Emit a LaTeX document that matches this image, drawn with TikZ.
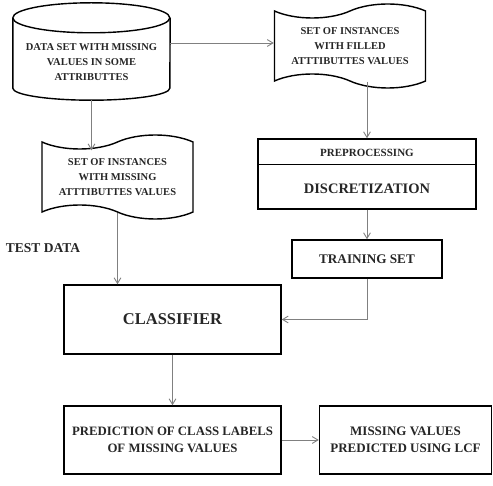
\documentclass[tikz,border=0pt]{standalone}
\usepackage{fontspec}
\setmainfont{Liberation Serif}
\usetikzlibrary{arrows.meta,positioning,shapes.geometric,shapes.symbols}

\begin{document}
\begin{tikzpicture}[
                x=1pt, y=-1pt,
                font=\bfseries\fontsize{10.5}{15}\selectfont, text=black!85,
                box/.style={rectangle, draw=black, line width=1.4pt, align=center, inner sep=3pt},
                flag/.style={tape, draw=black, line width=1.4pt, align=center, tape bend top=in and out, tape bend bottom=out and in, tape bend height=14pt, minimum width=151pt, minimum height=84pt},
                drum/.style={rectangle, minimum width=157pt, minimum height=97pt, inner sep=0pt},
                edge/.style={draw=black, line width=1.4pt},
                arr/.style={-{Straight Barb[length=2mm, width=2.4mm]}, draw=black!50, line width=0.9pt},
            ]
            \useasboundingbox (0,0) rectangle (493,486);
            % cylinder outline drawn around an empty node
            \node[drum] (data) at (91.5,51.5) {};
            \draw[edge] ([yshift=-15pt]data.north west) arc[start angle=180, end angle=-180, x radius=78.5pt, y radius=15pt];
            \draw[edge] ([yshift=-15pt]data.north west) -- ([yshift=12pt]data.south west) arc[start angle=180, end angle=360, x radius=78.5pt, y radius=12pt] -- ([yshift=-15pt]data.north east);
            \node[align=center] (datatxt) at (91.5,62) {DATA SET WITH MISSING\\VALUES IN SOME\\ATTRIBUTTES};

            \node[flag] (filled) at (350,46) {SET OF INSTANCES\\WITH FILLED\\ATTTIBUTTES VALUES};
            \node[flag] (missing) at (117.5,177) {SET OF INSTANCES\\WITH MISSING\\ATTTIBUTTES VALUES};
            \node[font=\bfseries\fontsize{13.5}{15}\selectfont] (test) at (43,248) {TEST DATA};
            \node[box, minimum width=218pt, minimum height=70pt] (prep) at (367,174) {};
            \node[font=\bfseries\fontsize{11}{15}\selectfont] (pre) at (367,153) {PREPROCESSING};
            \node[font=\bfseries\fontsize{14.5}{15}\selectfont] (disc) at (367,189) {DISCRETIZATION};
            \node[box, minimum width=150pt, minimum height=38pt, font=\bfseries\fontsize{13.2}{15}\selectfont] (train) at (367,259) {TRAINING SET};
            \node[box, minimum width=217pt, minimum height=69pt, font=\bfseries\fontsize{16.5}{18}\selectfont] (clf) at (172.5,319.5) {CLASSIFIER};
            \node[box, minimum width=217pt, minimum height=68pt, font=\bfseries\fontsize{12.8}{17}\selectfont] (pred) at (172.5,440) {PREDICTION OF CLASS LABELS\\OF MISSING VALUES};
            \node[box, minimum width=172pt, minimum height=68pt, font=\bfseries\fontsize{13}{17}\selectfont] (lcf) at (405.5,440) {MISSING VALUES\\PREDICTED USING LCF};

            \draw[black, line width=0.6pt] (prep.west |- 0,164) -- (prep.east |- 0,164);

            \draw[arr] ([yshift=3pt]data.east |- filled.west) -- ([yshift=3pt]filled.west);
            \draw[arr] (data.south) -- ([yshift=-9pt]data.south |- missing.north);
            \draw[arr] (prep.north |- filled.south) -- (prep.north);
            \draw[arr] (missing.south) -- (missing.south |- clf.north);
            \draw[arr] (prep.south) -- (train.north);
            \draw[arr] (train.south) |- (clf.east);
            \draw[arr] (clf.south) -- (pred.north);
            \draw[arr] (pred.east) -- (lcf.west);
        \end{tikzpicture}
\end{document}
